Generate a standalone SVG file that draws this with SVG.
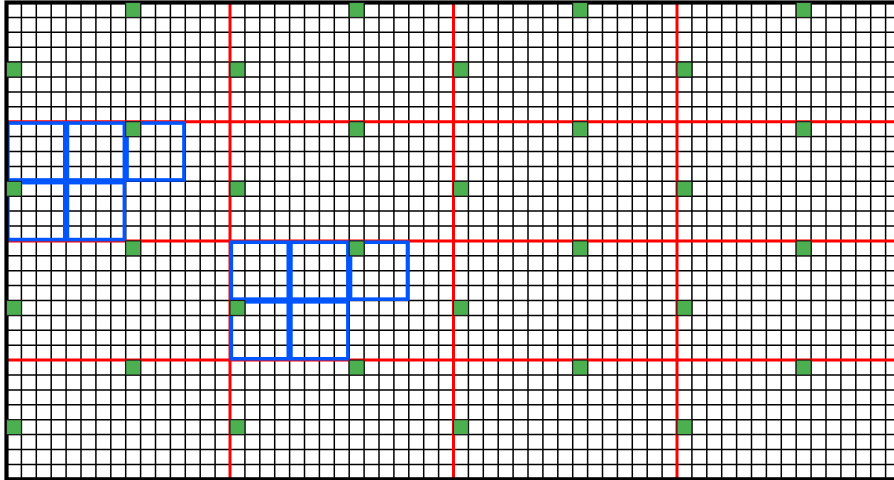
<svg xmlns="http://www.w3.org/2000/svg" width="894" height="480" viewBox="0 0 894 480">
<style>
.grid{fill:none;stroke:#000;stroke-width:1}
.red{fill:none;stroke:#ff0000;stroke-width:2}
.blue{fill:none;stroke:#0055ff;stroke-width:2.4}
.border{fill:none;stroke:#000;stroke-width:2.8}
.green{fill:#4caf50;stroke:#1a1a1a;stroke-width:0.7}
</style>
<defs>
<g id="block">
<rect class="blue" x="0.9" y="0.9" width="38.2" height="38.2"/>
<rect class="blue" x="40.9" y="0.9" width="38.2" height="38.2"/>
<rect class="blue" x="80.9" y="0.9" width="38.2" height="38.2"/>
<rect class="blue" x="0.9" y="40.9" width="38.2" height="38.2"/>
<rect class="blue" x="40.9" y="40.9" width="38.2" height="38.2"/>
</g>
</defs>
<rect width="894" height="480" fill="#fff"/>
<g transform="translate(6.5,2.5) scale(1.49)">
<g id="grid">
<path class="grid" d="M10 0V320M20 0V320M30 0V320M40 0V320M50 0V320M60 0V320M70 0V320M80 0V320M90 0V320M100 0V320M110 0V320M120 0V320M130 0V320M140 0V320M150 0V320M160 0V320M170 0V320M180 0V320M190 0V320M200 0V320M210 0V320M220 0V320M230 0V320M240 0V320M250 0V320M260 0V320M270 0V320M280 0V320M290 0V320M300 0V320M310 0V320M320 0V320M330 0V320M340 0V320M350 0V320M360 0V320M370 0V320M380 0V320M390 0V320M400 0V320M410 0V320M420 0V320M430 0V320M440 0V320M450 0V320M460 0V320M470 0V320M480 0V320M490 0V320M500 0V320M510 0V320M520 0V320M530 0V320M540 0V320M550 0V320M560 0V320M570 0V320M580 0V320M590 0V320"/>
<path class="grid" d="M0 10H600M0 20H600M0 30H600M0 40H600M0 50H600M0 60H600M0 70H600M0 80H600M0 90H600M0 100H600M0 110H600M0 120H600M0 130H600M0 140H600M0 150H600M0 160H600M0 170H600M0 180H600M0 190H600M0 200H600M0 210H600M0 220H600M0 230H600M0 240H600M0 250H600M0 260H600M0 270H600M0 280H600M0 290H600M0 300H600M0 310H600"/>
</g>
<g id="red-lines">
<path class="red" d="M150 0V320M300 0V320M450 0V320M0 80H600M0 160H600M0 240H600"/>
</g>
<g id="blue-block-1" transform="translate(0,80)"><use href="#block"/></g>
<g id="blue-block-2" transform="translate(150,160)"><use href="#block"/></g>
<rect id="border" class="border" x="0" y="0" width="600" height="320"/>
<g id="green-markers">
<rect class="green" x="80" y="0" width="10" height="10"/>
<rect class="green" x="230" y="0" width="10" height="10"/>
<rect class="green" x="380" y="0" width="10" height="10"/>
<rect class="green" x="530" y="0" width="10" height="10"/>
<rect class="green" x="0" y="40" width="10" height="10"/>
<rect class="green" x="150" y="40" width="10" height="10"/>
<rect class="green" x="300" y="40" width="10" height="10"/>
<rect class="green" x="450" y="40" width="10" height="10"/>
<rect class="green" x="80" y="80" width="10" height="10"/>
<rect class="green" x="230" y="80" width="10" height="10"/>
<rect class="green" x="380" y="80" width="10" height="10"/>
<rect class="green" x="530" y="80" width="10" height="10"/>
<rect class="green" x="0" y="120" width="10" height="10"/>
<rect class="green" x="150" y="120" width="10" height="10"/>
<rect class="green" x="300" y="120" width="10" height="10"/>
<rect class="green" x="450" y="120" width="10" height="10"/>
<rect class="green" x="80" y="160" width="10" height="10"/>
<rect class="green" x="230" y="160" width="10" height="10"/>
<rect class="green" x="380" y="160" width="10" height="10"/>
<rect class="green" x="530" y="160" width="10" height="10"/>
<rect class="green" x="0" y="200" width="10" height="10"/>
<rect class="green" x="150" y="200" width="10" height="10"/>
<rect class="green" x="300" y="200" width="10" height="10"/>
<rect class="green" x="450" y="200" width="10" height="10"/>
<rect class="green" x="80" y="240" width="10" height="10"/>
<rect class="green" x="230" y="240" width="10" height="10"/>
<rect class="green" x="380" y="240" width="10" height="10"/>
<rect class="green" x="530" y="240" width="10" height="10"/>
<rect class="green" x="0" y="280" width="10" height="10"/>
<rect class="green" x="150" y="280" width="10" height="10"/>
<rect class="green" x="300" y="280" width="10" height="10"/>
<rect class="green" x="450" y="280" width="10" height="10"/>
</g>
</g>
</svg>
